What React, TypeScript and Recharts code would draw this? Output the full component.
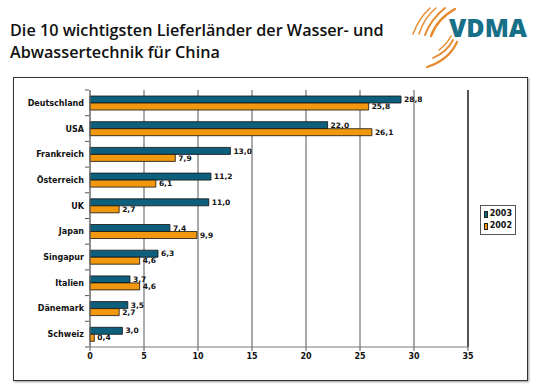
import {
  Bar,
  BarChart,
  CartesianGrid,
  LabelList,
  Legend,
  ReferenceLine,
  XAxis,
  YAxis,
} from "recharts";

const COUNTRIES = [
  "Deutschland", "USA", "Frankreich", "Österreich", "UK",
  "Japan", "Singapur", "Italien", "Dänemark", "Schweiz",
];
const VALUES_2003 = [28.8, 22.0, 13.0, 11.2, 11.0, 7.4, 6.3, 3.7, 3.5, 3.0];
const VALUES_2002 = [25.8, 26.1, 7.9, 6.1, 2.7, 9.9, 4.6, 4.6, 2.7, 0.4];
const X_TICKS = [0, 5, 10, 15, 20, 25, 30, 35];

const TEAL = "#0d5f7c";
const ORANGE = "#f2980e";
const FONT = "'DejaVu Sans', Verdana, sans-serif";

// legend (vertical, right) eats ~37px of the right margin
const MARGIN = { top: 90, right: 36, bottom: 24, left: 10 };
const CHART_H = 391;
const BAND = (CHART_H - MARGIN.top - MARGIN.bottom - 20) / COUNTRIES.length;

const data = COUNTRIES.map((c, i) => ({
  country: c,
  y2003: VALUES_2003[i],
  y2002: VALUES_2002[i],
}));

const comma = (v: any) => Number(v).toFixed(1).replace(".", ",");

function CountryTick(props: any) {
  const { x, y, payload, index } = props;
  return (
    <g>
      <text
        x={x - 4}
        y={y}
        dy={3}
        textAnchor="end"
        fontFamily={FONT}
        fontWeight="bold"
        fontSize={8}
        fill="#111"
      >
        {payload.value}
      </text>
      <line x1={x - 3} x2={x + 1} y1={y - BAND / 2} y2={y - BAND / 2} stroke="#555" />
      {index === COUNTRIES.length - 1 && (
        <line x1={x - 3} x2={x + 1} y1={y + BAND / 2} y2={y + BAND / 2} stroke="#555" />
      )}
    </g>
  );
}

function LegendBox({ payload }: any) {
  const items = [...(payload || [])].sort((a: any, b: any) => Number(b.value) - Number(a.value));
  return (
    <div
      style={{
        border: "1px solid #555",
        background: "#fff",
        padding: "2px 3px",
        fontFamily: FONT,
        fontWeight: "bold",
        fontSize: 8,
        lineHeight: "12px",
        color: "#111",
      }}
    >
      {items.map((p: any) => (
        <div key={p.value} style={{ display: "flex", alignItems: "center" }}>
          <span
            style={{
              display: "inline-block",
              width: 5,
              height: 5,
              background: p.color,
              border: "1px solid #222",
              marginRight: 2,
            }}
          />
          {p.value}
        </div>
      ))}
    </div>
  );
}

function Logo() {
  return (
    <div style={{ position: "absolute", left: 405, top: 0, width: 135, height: 76 }}>
      <svg width={135} height={76} style={{ position: "absolute", left: 0, top: 0 }}>
        <g fill="none" stroke="#e58a2e" strokeLinecap="round">
          <path d="M8 34 Q14 18 25 8" strokeWidth={1.5} />
          <path d="M14 34 Q19 18 31 8" strokeWidth={1.5} />
          <path d="M20 35 Q26 19 40 8" strokeWidth={2} />
          <path d="M26 36 Q32 19 50 9" strokeWidth={2.4} />
          <path d="M34 50 Q42 44 46 36" strokeWidth={1.5} />
          <path d="M28 58 Q42 52 48 40" strokeWidth={1.8} />
          <path d="M22 67 Q44 60 52 42" strokeWidth={2.2} />
        </g>
      </svg>
      <div
        style={{
          position: "absolute",
          left: 44,
          top: 10,
          fontFamily: "'Open Sans', Arial, sans-serif",
          fontWeight: 800,
          fontSize: 25,
          letterSpacing: 0,
          color: "#176f88",
        }}
      >
        VDMA
      </div>
    </div>
  );
}

export default function App() {
  return (
    <div
      style={{
        position: "absolute",
        left: 0,
        top: 0,
        width: 540,
        height: 391,
        background: "#fff",
        overflow: "hidden",
      }}
    >
      <div
        style={{
          position: "absolute",
          left: 10,
          top: 19,
          fontFamily: "'Open Sans', Lato, sans-serif",
          fontWeight: 600,
          fontSize: 16.2,
          lineHeight: "22px",
          color: "#111",
        }}
      >
        Die 10 wichtigsten Lieferländer der Wasser- und
        <br />
        Abwassertechnik für China
      </div>
      <Logo />
      <div
        style={{
          position: "absolute",
          left: 13,
          top: 77,
          width: 513,
          height: 302,
          border: "1px solid #333",
          boxShadow: "1px 1px 2px #999",
        }}
      />
      <div style={{ position: "absolute", left: 0, top: 0 }}>
        <BarChart
          width={540}
          height={CHART_H}
          data={data}
          layout="vertical"
          margin={MARGIN}
          barSize={7}
          barGap={0}
        >
          <CartesianGrid horizontal={false} stroke="#555" />
          <XAxis
            type="number"
            domain={[0, 35]}
            ticks={X_TICKS}
            interval={0}
            height={20}
            tickSize={4}
            tickLine={{ stroke: "#555" }}
            axisLine={{ stroke: "#777" }}
            tick={{ fontFamily: FONT, fontWeight: "bold", fontSize: 8, fill: "#111" }}
          />
          <XAxis
            xAxisId="top"
            orientation="top"
            type="number"
            domain={[0, 35]}
            height={0}
            tick={false}
            tickLine={false}
            axisLine={{ stroke: "#000" }}
          />
          <YAxis
            type="category"
            dataKey="country"
            width={80}
            tickLine={false}
            tickSize={0}
            axisLine={{ stroke: "#777" }}
            tick={<CountryTick />}
            interval={0}
          />
          <ReferenceLine x={35} stroke="#000" />
          <Legend
            layout="vertical"
            verticalAlign="top"
            align="right"
            wrapperStyle={{ left: 480, top: 205, width: 36 }}
            content={<LegendBox />}
          />
          <Bar
            dataKey="y2003"
            name="2003"
            fill={TEAL}
            stroke="#111"
            strokeWidth={0.8}
            isAnimationActive={false}
          >
            <LabelList
              dataKey="y2003"
              position="right"
              offset={3}
              formatter={comma}
              style={{ fontFamily: FONT, fontWeight: "bold", fontSize: 7.5, fill: "#111" }}
            />
          </Bar>
          <Bar
            dataKey="y2002"
            name="2002"
            fill={ORANGE}
            stroke="#111"
            strokeWidth={0.8}
            isAnimationActive={false}
          >
            <LabelList
              dataKey="y2002"
              position="right"
              offset={3}
              formatter={comma}
              style={{ fontFamily: FONT, fontWeight: "bold", fontSize: 7.5, fill: "#111" }}
            />
          </Bar>
        </BarChart>
      </div>
    </div>
  );
}
